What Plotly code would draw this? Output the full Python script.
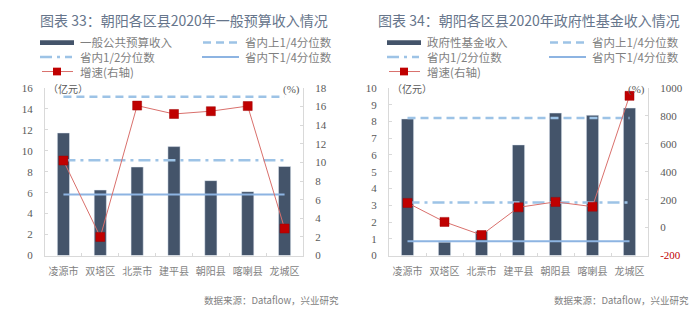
import plotly.graph_objects as go

# ---- data ----
counties = ["凌源市", "双塔区", "北票市", "建平县", "朝阳县", "喀喇县", "龙城区"]

budget_revenue = [11.7, 6.25, 8.45, 10.4, 7.15, 6.1, 8.5]          # 亿元
budget_growth = [10.2, 2.0, 16.1, 15.2, 15.5, 16.05, 2.9]          # %
budget_q_upper, budget_q_median, budget_q_lower = 15.15, 9.1, 5.82

fund_revenue = [8.15, 0.8, 1.45, 6.6, 8.5, 8.37, 8.8]              # 亿元
fund_growth = [177, 41, -53, 145, 184, 150, 943]                    # %
fund_q_upper, fund_q_median, fund_q_lower = 8.2, 3.17, 0.86

left_ticks_1 = list(range(0, 17, 2))
right_ticks_1 = list(range(0, 19, 2))
left_ticks_2 = list(range(0, 11, 1))
right_ticks_2 = [-200, 0, 200, 400, 600, 800, 1000]

titles = ["图表 33：朝阳各区县2020年一般预算收入情况", "图表 34：朝阳各区县2020年政府性基金收入情况"]
bar_names = ["一般公共预算收入", "政府性基金收入"]
legend_left = ["省内1/2分位数", "增速(右轴)"]
legend_right = ["省内上1/4分位数", "省内下1/4分位数"]
source = "数据来源：Dataflow，兴业研究"

# ---- styles ----
W, H = 700, 329
BAR = "#44546a"
QCOL = "#9dc3e6"
QLOW = "#8db4e2"
RED = "#c00000"
REDLINE = "#d9706c"
GREY = "#595959"
LGREY = "#7f7f7f"
AXIS = "#d9d9d9"
CJK = "Noto Sans CJK SC"
SERIF = "Liberation Serif"
DASH = "8px,5px"
DASHDOT = "12px,5px,3px,5px"


def px(x):
    return x / W


def py(y):
    return 1 - y / H


fig = go.Figure()


def add_panel(xa, ya, ya2, revenue, growth, qu, qm, ql):
    fig.add_trace(go.Bar(x=counties, y=revenue, marker_color=BAR, width=0.33,
                         xaxis=xa, yaxis=ya, showlegend=False))
    for q, col, dash, w in [(qu, QCOL, DASH, 2.5), (qm, QCOL, DASHDOT, 2.5), (ql, QLOW, "solid", 2)]:
        fig.add_trace(go.Scatter(x=counties, y=[q] * len(counties), mode="lines",
                                 line=dict(color=col, width=w, dash=dash),
                                 xaxis=xa, yaxis=ya, showlegend=False))
    fig.add_trace(go.Scatter(x=counties, y=growth, mode="lines+markers",
                             line=dict(color=REDLINE, width=1),
                             marker=dict(symbol="square", size=9, color=RED,
                                         line=dict(color="#a00000", width=0.5)),
                             xaxis=xa, yaxis=ya2, showlegend=False))


add_panel("x", "y", "y2", budget_revenue, budget_growth, budget_q_upper, budget_q_median, budget_q_lower)
add_panel("x2", "y3", "y4", fund_revenue, fund_growth, fund_q_upper, fund_q_median, fund_q_lower)

ydom = [py(259), py(85)]
xcommon = dict(type="category", range=[-0.5, 6.5], showline=True, linecolor=AXIS, linewidth=1,
               ticks="inside", tickson="boundaries", ticklen=3, tickcolor=AXIS, tickangle=0,
               ticklabelstandoff=6,
               tickfont=dict(family=CJK, size=10, color=LGREY), showgrid=False, zeroline=False)
ycommon = dict(showline=True, linecolor=AXIS, linewidth=1, ticks="inside", ticklen=3,
               tickcolor=AXIS, showgrid=False, zeroline=False, ticklabelstandoff=9,
               tickfont=dict(family=SERIF, size=11, color=GREY))

fig.update_layout(
    xaxis=dict(domain=[px(45), px(303)], anchor="y", **xcommon),
    yaxis=dict(domain=ydom, anchor="x", range=[0, 16], tickvals=left_ticks_1, **ycommon),
    yaxis2=dict(overlaying="y", anchor="x", side="right", range=[0, 18], tickvals=right_ticks_1, **ycommon),
    xaxis2=dict(domain=[px(389), px(648)], anchor="y3", **xcommon),
    yaxis3=dict(domain=ydom, anchor="x2", range=[0, 10], tickvals=left_ticks_2, **ycommon),
    yaxis4=dict(overlaying="y3", anchor="x2", side="right", range=[-200, 1000],
                tickvals=right_ticks_2,
                ticktext=[f"<span style='color:{RED}'>{v}</span>" if v < 0 else str(v) for v in right_ticks_2],
                **ycommon),
    width=W, height=H, margin=dict(l=0, r=0, t=0, b=0),
    paper_bgcolor="white", plot_bgcolor="white", showlegend=False,
)

shapes = []
annotations = []


def text(x, y, s, size, color, family=CJK, xanchor="left"):
    annotations.append(dict(x=px(x), y=py(y), xref="paper", yref="paper", text=s, showarrow=False,
                            xanchor=xanchor, yanchor="middle", align="left", borderpad=0,
                            font=dict(family=family, size=size, color=color)))


def hline(x0, x1, y, color, width, dash="solid"):
    shapes.append(dict(type="line", xref="paper", yref="paper", x0=px(x0), x1=px(x1), y0=py(y), y1=py(y),
                       line=dict(color=color, width=width, dash=dash)))


for i, ox in enumerate([0, 347]):
    # title
    text(39 + (338 if i else 0), 15, titles[i], 14, "#66758b")
    # legend keys
    shapes.append(dict(type="rect", xref="paper", yref="paper", x0=px(40 + ox), x1=px(74 + ox),
                       y0=py(40.5), y1=py(35.5), fillcolor=BAR, line=dict(width=0)))
    hline(203 + ox, 240 + ox, 38, QCOL, 2.5, DASH)
    hline(40 + ox, 72 + ox, 53, QCOL, 2.5, DASHDOT)
    hline(202 + ox, 239 + ox, 53, QLOW, 2)
    hline(42 + ox, 73 + ox, 68, REDLINE, 1)
    shapes.append(dict(type="rect", xref="paper", yref="paper", x0=px(53 + ox), x1=px(61 + ox),
                       y0=py(72), y1=py(64), fillcolor=RED, line=dict(width=0)))
    # legend labels, one block per column
    text(79 + ox, 53, "<br>".join([bar_names[i]] + legend_left), 11.5, LGREY)
    text(244 + ox, 45.5, "<br>".join(legend_right), 11.5, LGREY)
    # source
    text(340 + (350 if i else 0), 305, source, 9.5, LGREY, xanchor="right")

# unit labels
text(47, 86, "（亿元）", 10, GREY)
text(391, 86, "（亿元）", 10, GREY)
text(301, 87, "(%)", 11, GREY, family=SERIF, xanchor="right")
text(646, 87, "(%)", 11, GREY, family=SERIF, xanchor="right")

fig.update_layout(shapes=shapes, annotations=annotations)
fig.write_html("out.html")
